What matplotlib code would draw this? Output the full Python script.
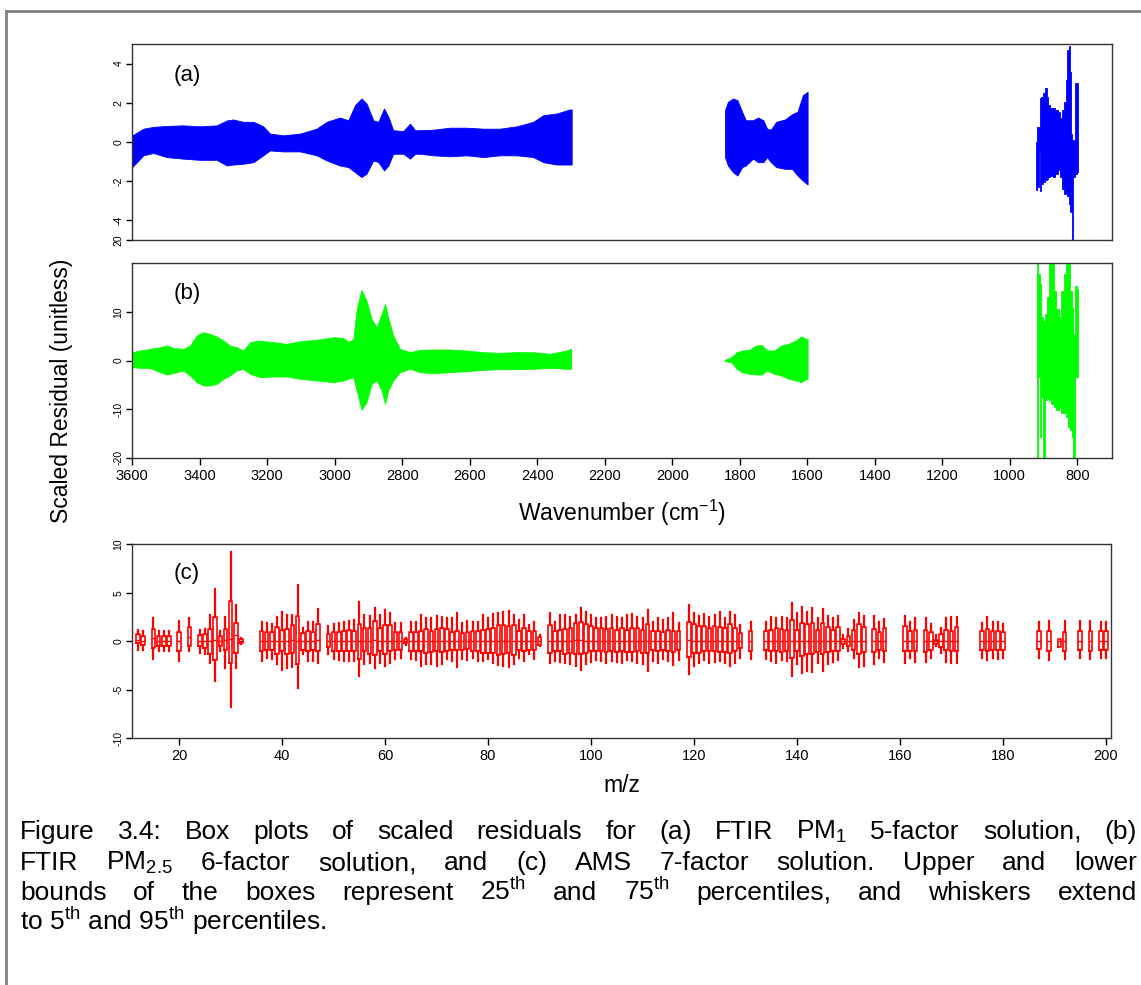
import numpy as np
import matplotlib
matplotlib.use("Agg")
import matplotlib.pyplot as plt
from matplotlib.lines import Line2D

plt.rcParams['font.family'] = ['Liberation Sans', 'DejaVu Sans']
plt.rcParams['mathtext.fontset'] = 'custom'
plt.rcParams['mathtext.rm'] = 'Liberation Sans'
plt.rcParams['mathtext.it'] = 'Liberation Sans:italic'
plt.rcParams['mathtext.bf'] = 'Liberation Sans:bold'
plt.rcParams['axes.unicode_minus'] = False

###############################################################################
# (a) FTIR PM1 5-factor: whisker range (5th..95th) per wavenumber             #
###############################################################################
a_wn = [3600, 3567, 3538, 3498, 3449, 3400, 3350, 3320, 3301, 3271,
        3241, 3212, 3192, 3153, 3103, 3054, 3024, 2985, 2960, 2940,
        2921, 2906, 2886, 2871, 2854, 2841, 2827, 2797, 2777, 2762,
        2748, 2708, 2659, 2610, 2560, 2511, 2461, 2412, 2382, 2343,
        2304, 2298,
        1844, 1835, 1820, 1807, 1793, 1782, 1761, 1746, 1730, 1719,
        1708, 1692, 1666, 1645, 1629, 1613, 1599,
        922, 917, 912, 909, 903, 898, 893, 888, 883, 876,
        868, 861, 854, 848, 843, 836, 831, 827, 824, 820,
        816, 813, 810, 804, 799]
a_hi = [0.34, 0.68, 0.77, 0.82, 0.85, 0.80, 0.85, 1.10, 1.15, 1.03,
        1.03, 0.80, 0.43, 0.34, 0.43, 0.68, 1.03, 1.25, 1.11, 1.88,
        2.22, 1.97, 1.11, 1.03, 1.71, 1.28, 0.60, 0.56, 0.94, 0.60,
        0.60, 0.63, 0.73, 0.73, 0.68, 0.68, 0.80, 1.03, 1.37, 1.45,
        1.66, 1.66,
        1.62, 2.05, 2.22, 2.14, 1.54, 1.11, 1.11, 1.25, 1.11, 0.68,
        0.63, 1.03, 1.15, 1.42, 1.54, 2.39, 2.56,
        0.00, 0.77, 0.69, 2.22, 2.31, 2.48, 2.74, 2.31, 1.88, 1.71,
        1.76, 1.63, 1.54, 1.20, 1.63, 2.05, 3.16, 4.70, 4.91, 3.59,
        0.43, 0.09, 0.09, 2.99, 2.99]
a_lo = [-1.28, -0.68, -0.56, -0.77, -0.85, -0.91, -0.91, -1.20, -1.15, -1.11,
        -1.03, -0.68, -0.43, -0.48, -0.48, -0.68, -0.94, -1.20, -1.28, -1.54,
        -1.79, -1.62, -0.94, -1.03, -1.45, -1.20, -0.60, -0.60, -0.85, -0.60,
        -0.60, -0.68, -0.73, -0.68, -0.77, -0.68, -0.68, -0.77, -1.03, -1.15,
        -1.15, -1.15,
        -0.77, -1.20, -1.54, -1.71, -1.28, -1.20, -0.85, -1.03, -1.03, -0.77,
        -1.03, -1.28, -1.37, -1.37, -1.71, -1.97, -2.17,
        -2.44, -2.31, -0.51, -2.48, -2.14, -2.05, -1.96, -1.88, -1.79, -1.71,
        -1.79, -1.62, -1.45, -1.79, -2.39, -2.65, -2.56, -2.73, -3.16, -3.59,
        -3.50, -5.50, -1.79, -1.62, -1.54]

###############################################################################
# (b) FTIR PM2.5 6-factor                                                     #
###############################################################################
b_wn = [3600, 3577, 3548, 3518, 3498, 3479, 3449, 3429, 3409, 3390,
        3370, 3350, 3330, 3311, 3291, 3271, 3251, 3222, 3182, 3143,
        3103, 3054, 3004, 2975, 2960, 2945, 2935, 2921, 2906, 2891,
        2876, 2861, 2851, 2842, 2827, 2807, 2777, 2748, 2708, 2659,
        2610, 2560, 2511, 2461, 2412, 2363, 2313, 2300,
        1844, 1825, 1809, 1793, 1772, 1751, 1735, 1719, 1698, 1677,
        1655, 1634, 1618, 1603, 1599,
        920, 912, 909, 903, 898, 893, 888, 881, 873, 866,
        859, 851, 844, 836, 831, 825, 820, 814, 810, 804, 799]
b_hi = [1.71, 2.05, 2.40, 2.74, 3.08, 2.60, 2.40, 3.08, 5.14, 5.82,
        5.48, 4.93, 4.11, 3.08, 2.74, 2.05, 3.77, 4.11, 3.77, 3.42,
        3.97, 4.25, 4.79, 4.66, 3.77, 4.45, 10.6, 14.5, 12.3, 8.56,
        6.85, 9.59, 11.6, 8.90, 5.14, 2.40, 1.71, 2.19, 2.26, 2.26,
        2.05, 1.71, 1.58, 1.71, 1.71, 1.37, 2.05, 2.40,
        0.14, 0.68, 1.71, 2.05, 2.19, 3.08, 3.22, 2.05, 2.05, 3.08,
        3.42, 4.11, 4.93, 4.45, 4.45,
        24.0, 17.8, 15.7, 8.9, 8.2, 9.6, 13.0, 24.0, 24.0, 14.3,
        10.6, 8.9, 14.3, 17.8, 24.0, 24.0, 14.3, 10.9, 5.5, 15.4, 14.7]
b_lo = [-1.37, -1.51, -1.51, -2.40, -2.88, -2.60, -2.05, -3.08, -4.45, -5.14,
        -5.14, -4.79, -3.77, -3.08, -2.05, -1.71, -2.74, -3.42, -3.29, -3.29,
        -3.77, -4.11, -4.45, -4.11, -3.77, -3.42, -6.16, -10.1, -8.56, -4.79,
        -4.11, -6.16, -8.90, -6.16, -4.11, -2.40, -1.71, -2.40, -2.60, -2.40,
        -2.19, -1.92, -1.78, -1.78, -1.71, -1.51, -1.71, -1.71,
        -0.14, -0.34, -1.71, -2.40, -2.74, -2.88, -2.88, -2.05, -2.74, -3.08,
        -3.77, -4.11, -4.45, -3.77, -3.77,
        -24.0, -3.4, -15.7, -7.5, -24.0, -8.2, -7.9, -8.2, -8.9, -9.6,
        -10.2, -9.6, -10.9, -10.9, -11.6, -13.7, -14.3, -15.7, -24.0, -3.4, -3.4]

###############################################################################
# (c) AMS 7-factor: box statistics per m/z                                    #
###############################################################################
c_mz = [12, 13, 15, 16, 17, 18, 20, 22, 24, 25,
        26, 27, 28, 29, 30, 31, 32, 36, 37, 38,
        39, 40, 41, 42, 43, 44, 45, 46, 47, 49,
        50, 51, 52, 53, 54, 55, 56, 57, 58, 59,
        60, 61, 62, 63, 64, 65, 66, 67, 68, 69,
        70, 71, 72, 73, 74, 75, 76, 77, 78, 79,
        80, 81, 82, 83, 84, 85, 86, 87, 88, 89,
        90, 92, 93, 94, 95, 96, 97, 98, 99, 100,
        101, 102, 103, 104, 105, 106, 107, 108, 109, 110,
        111, 112, 113, 114, 115, 116, 117, 119, 120, 121,
        122, 123, 124, 125, 126, 127, 128, 129, 131, 134,
        135, 136, 137, 138, 139, 140, 141, 142, 143, 144,
        145, 146, 147, 148, 149, 150, 151, 152, 153, 155,
        156, 157, 161, 162, 163, 165, 166, 167, 168, 169,
        170, 171, 176, 177, 178, 179, 180, 187, 189, 191,
        192, 195, 197, 199, 200]
c_hi = [1.19, 1.02, 2.38, 1.02, 1.02, 1.02, 2.11, 2.38, 1.19, 1.26,
        2.72, 5.44, 1.02, 2.55, 9.25, 3.74, 0.34, 2.04, 1.87, 1.77,
        2.55, 3.06, 2.72, 2.72, 5.78, 1.36, 2.04, 2.04, 3.33, 1.53,
        1.77, 1.87, 2.04, 2.11, 2.21, 4.08, 2.72, 2.62, 3.47, 2.72,
        3.23, 2.89, 1.87, 1.87, 0.34, 1.97, 1.97, 2.72, 2.38, 2.45,
        2.65, 2.55, 2.38, 2.38, 2.89, 1.87, 2.11, 2.04, 1.97, 2.72,
        2.38, 2.79, 2.89, 2.99, 3.13, 2.72, 2.21, 2.72, 1.70, 1.97,
        0.68, 2.89, 1.97, 2.72, 2.72, 2.55, 2.72, 3.47, 2.99, 2.72,
        2.45, 2.38, 2.55, 2.72, 2.55, 2.38, 2.72, 2.79, 2.55, 2.38,
        3.23, 1.97, 2.38, 2.21, 2.38, 2.89, 1.87, 3.74, 2.89, 2.65,
        2.79, 2.55, 2.72, 3.06, 2.38, 3.06, 2.72, 1.70, 2.04, 2.04,
        2.55, 2.45, 2.55, 2.45, 3.91, 2.89, 3.57, 2.99, 3.47, 2.45,
        3.33, 2.65, 2.38, 2.65, 0.61, 1.29, 2.21, 2.89, 2.65, 2.65,
        1.97, 2.31, 2.65, 2.04, 2.38, 2.38, 1.77, 0.68, 1.36, 2.45,
        2.55, 2.55, 1.87, 2.55, 1.97, 1.97, 1.77, 1.97, 2.11, 0.27,
        2.11, 2.11, 2.11, 1.97, 1.97]
c_q3 = [0.75, 0.51, 1.29, 0.51, 0.51, 0.51, 0.95, 1.46, 0.61, 0.75,
        1.26, 2.55, 0.51, 1.26, 4.15, 1.87, 0.27, 1.02, 0.92, 0.92,
        1.43, 1.19, 1.26, 1.70, 2.62, 0.85, 1.02, 0.92, 1.77, 0.75,
        0.92, 0.92, 1.09, 1.19, 1.09, 1.77, 1.36, 1.36, 2.11, 1.36,
        1.70, 1.63, 0.95, 0.95, 0.24, 0.95, 0.95, 1.02, 1.26, 1.09,
        1.26, 1.36, 1.26, 0.95, 1.02, 0.85, 0.92, 1.02, 1.09, 1.19,
        1.26, 1.36, 1.63, 1.70, 1.53, 1.63, 1.02, 1.36, 1.02, 1.02,
        0.41, 1.63, 1.02, 1.19, 1.26, 1.36, 1.87, 1.94, 1.77, 1.53,
        1.36, 1.36, 1.29, 1.36, 1.19, 1.36, 1.19, 1.36, 1.36, 1.19,
        1.77, 1.02, 1.02, 0.92, 1.19, 1.02, 1.02, 2.04, 1.77, 1.53,
        1.53, 1.36, 1.53, 1.43, 1.36, 1.77, 1.36, 0.85, 1.02, 1.02,
        1.19, 1.36, 1.29, 1.19, 2.21, 1.19, 1.87, 1.77, 1.87, 1.19,
        1.87, 1.43, 1.19, 1.43, 0.27, 0.51, 1.19, 1.77, 1.43, 1.29,
        0.95, 1.36, 1.53, 1.02, 1.19, 1.19, 0.95, 0.17, 0.75, 1.19,
        1.02, 1.43, 1.02, 1.29, 1.02, 1.02, 0.95, 1.02, 1.02, 0.27,
        0.95, 1.02, 1.02, 1.02, 1.02]
c_med = [0.10, 0.05, 0.30, 0.05, 0.05, 0.05, 0.00, 0.40, 0.05, 0.05,
         0.05, 0.10, 0.05, 0.10, 0.20, 0.60, 0.05, 0.05, 0.05, 0.05,
         0.05, 0.05, 0.05, 0.10, 0.05, 0.05, 0.05, 0.05, 0.10, 0.05,
         0.05, 0.05, 0.05, 0.05, 0.05, 0.05, 0.05, 0.05, 0.10, 0.05,
         0.05, 0.05, 0.05, 0.05, 0.00, 0.05, 0.05, 0.05, 0.05, 0.05,
         0.05, 0.05, 0.05, 0.05, 0.05, 0.05, 0.05, 0.05, 0.05, 0.05,
         0.05, 0.05, 0.05, 0.05, 0.05, 0.05, 0.05, 0.05, 0.05, 0.05,
         0.00, 0.05, 0.05, 0.05, 0.05, 0.05, 0.10, 0.10, 0.05, 0.05,
         0.05, 0.05, 0.05, 0.05, 0.05, 0.05, 0.05, 0.05, 0.05, 0.05,
         0.05, 0.05, 0.05, 0.05, 0.05, 0.05, 0.05, 0.10, 0.05, 0.05,
         0.05, 0.05, 0.05, 0.05, 0.05, 0.05, 0.05, 0.05, 0.05, 0.05,
         0.05, 0.05, 0.05, 0.05, 0.05, 0.05, 0.05, 0.05, 0.05, 0.05,
         0.05, 0.05, 0.05, 0.05, 0.00, 0.00, 0.05, 0.05, 0.05, 0.05,
         0.05, 0.05, 0.05, 0.05, 0.05, 0.05, 0.05, 0.00, 0.05, 0.05,
         0.05, 0.05, 0.05, 0.05, 0.05, 0.05, 0.05, 0.05, 0.05, 0.00,
         0.05, 0.05, 0.05, 0.05, 0.05]
c_q1 = [-0.17, -0.34, -0.68, -0.51, -0.51, -0.51, -1.02, -0.51, -0.51, -0.68,
        -1.26, -1.94, -0.51, -0.85, -2.21, -1.19, -0.17, -1.02, -0.85, -0.85,
        -1.29, -1.02, -1.29, -1.19, -2.38, -0.85, -1.02, -0.85, -0.95, -0.61,
        -0.95, -0.95, -1.02, -1.02, -1.02, -1.80, -1.02, -1.36, -1.43, -1.02,
        -1.36, -1.02, -0.85, -0.85, -0.20, -0.95, -1.02, -0.95, -1.19, -1.09,
        -1.02, -1.09, -1.02, -0.85, -0.85, -0.85, -0.78, -0.95, -0.95, -1.19,
        -1.19, -1.19, -1.43, -1.36, -1.19, -1.43, -0.85, -1.02, -0.85, -0.85,
        -0.34, -1.19, -1.02, -0.95, -1.29, -1.19, -1.36, -1.29, -1.19, -1.02,
        -1.02, -1.02, -1.09, -1.02, -1.09, -1.02, -1.09, -1.09, -1.02, -1.19,
        -1.19, -0.85, -0.95, -0.85, -1.02, -1.09, -0.85, -1.63, -1.19, -1.19,
        -1.02, -1.02, -1.02, -1.09, -1.09, -1.19, -1.02, -0.68, -0.95, -0.85,
        -1.02, -1.02, -1.09, -1.02, -1.70, -0.95, -1.53, -1.36, -1.36, -1.09,
        -1.36, -1.09, -0.95, -0.95, -0.27, -0.51, -0.85, -1.29, -1.09, -1.09,
        -0.85, -0.95, -0.95, -0.95, -0.95, -1.09, -0.85, -0.27, -0.61, -0.85,
        -1.02, -0.95, -0.85, -0.95, -0.85, -0.85, -0.85, -0.75, -0.95, -0.61,
        -0.95, -0.85, -0.95, -0.85, -0.85]
c_lo = [-0.85, -0.85, -1.80, -1.02, -0.95, -1.02, -2.04, -1.02, -1.19, -1.26,
        -2.21, -4.08, -0.95, -2.72, -6.73, -2.72, -0.27, -2.04, -1.70, -1.87,
        -2.38, -2.99, -2.72, -2.65, -4.83, -1.29, -2.04, -2.04, -2.21, -1.36,
        -1.87, -1.97, -2.04, -2.04, -2.04, -3.57, -2.38, -2.21, -2.72, -2.21,
        -2.55, -2.21, -1.87, -1.77, -0.34, -1.87, -1.97, -2.55, -2.38, -2.31,
        -2.55, -2.31, -1.87, -2.04, -2.65, -1.87, -1.97, -1.77, -2.04, -2.04,
        -1.87, -2.21, -2.45, -2.55, -2.65, -2.38, -1.70, -2.04, -1.36, -1.87,
        -0.51, -2.21, -2.04, -2.11, -2.21, -2.31, -2.55, -2.99, -2.38, -2.11,
        -1.97, -2.04, -2.21, -2.04, -2.11, -2.21, -1.97, -2.04, -2.21, -2.38,
        -3.06, -2.04, -2.21, -1.87, -2.04, -2.45, -1.97, -3.40, -2.55, -2.21,
        -1.97, -2.21, -2.11, -2.04, -2.21, -2.55, -2.21, -1.70, -1.87, -1.87,
        -2.04, -2.21, -1.97, -2.04, -3.57, -2.38, -3.23, -3.06, -3.13, -2.21,
        -3.06, -2.38, -2.11, -1.97, -0.68, -1.02, -1.77, -2.65, -2.55, -2.38,
        -1.70, -2.11, -2.21, -1.77, -2.11, -2.11, -1.77, -0.51, -1.19, -2.11,
        -2.21, -2.21, -1.70, -1.97, -1.70, -1.87, -1.77, -1.77, -1.97, -0.61,
        -1.87, -1.77, -1.87, -1.77, -1.77]

wn_ticks = [3600, 3400, 3200, 3000, 2800, 2600, 2400, 2200, 2000, 1800,
            1600, 1400, 1200, 1000, 800]
mz_ticks = [20, 40, 60, 80, 100, 120, 140, 160, 180, 200]

W, H = 1141, 985
fig = plt.figure(figsize=(W / 100, H / 100), dpi=100)


def px_box(left, top, right, bottom):
    return [left / W, 1 - bottom / H, (right - left) / W, (bottom - top) / H]


def style_axes(ax):
    for s in ax.spines.values():
        s.set_color('#333333')
        s.set_linewidth(1.0)
    ax.tick_params(axis='y', direction='out', length=4.5, width=1.0,
                   labelsize=7.5, pad=2, labelrotation=90)
    ax.tick_params(axis='x', direction='out', length=5, width=1.0,
                   labelsize=10.5, pad=3)
    for lbl in ax.get_yticklabels():
        lbl.set_va('center')


def draw_ftir(ax, wn, lo, hi, color):
    wn = np.asarray(wn, float)
    lo = np.asarray(lo, float)
    hi = np.asarray(hi, float)
    # split into the measured spectral windows
    cuts = np.where(np.abs(np.diff(wn)) > 100)[0] + 1
    for idx in np.split(np.arange(len(wn)), cuts):
        spacing = np.median(np.abs(np.diff(wn[idx])))
        step = 'mid' if spacing < 10 else None
        ax.fill_between(wn[idx], lo[idx], hi[idx], color=color,
                        linewidth=0.6, step=step)


# panel (a)
ax_a = fig.add_axes(px_box(132.3, 44, 1112, 240))
draw_ftir(ax_a, a_wn, a_lo, a_hi, '#0000ff')
ax_a.set_xlim(3600, 697)
ax_a.set_ylim(-5, 5)
ax_a.set_xticks([])
ax_a.set_yticks([4, 2, 0, -2, -4, -5])
ax_a.set_yticklabels(['4', '2', '0', '-2', '-4', '20'])
style_axes(ax_a)

# panel (b)
ax_b = fig.add_axes(px_box(132.3, 263.3, 1112, 457.7))
draw_ftir(ax_b, b_wn, b_lo, b_hi, '#00ff00')
ax_b.set_xlim(3600, 697)
ax_b.set_ylim(-20, 20)
ax_b.set_xticks(wn_ticks)
ax_b.set_xticklabels([str(t) for t in wn_ticks])
ax_b.set_yticks([10, 0, -10, -20])
ax_b.set_yticklabels(['10', '0', '-10', '-20'])
style_axes(ax_b)

# panel (c)
ax_c = fig.add_axes(px_box(132.3, 544.3, 1111, 738.3))
stats = [dict(med=m, q1=q1, q3=q3, whislo=lo, whishi=hi, fliers=[])
         for m, q1, q3, lo, hi in zip(c_med, c_q1, c_q3, c_lo, c_hi)]
red = '#ff0000'
ax_c.bxp(stats, positions=c_mz, widths=0.7, showcaps=False,
         showfliers=False, manage_ticks=False,
         boxprops=dict(color=red, linewidth=1.2),
         whiskerprops=dict(color=red, linewidth=1.6),
         medianprops=dict(color=red, linewidth=1.0))
ax_c.set_xlim(10.9, 201)
ax_c.set_ylim(-10, 10)
ax_c.set_xticks(mz_ticks)
ax_c.set_xticklabels([str(t) for t in mz_ticks])
ax_c.set_yticks([10, 5, 0, -5, -10])
ax_c.set_yticklabels(['10', '5', '0', '-5', '-10'])
style_axes(ax_c)

# panel tags and axis titles
for tag, yc in (('(a)', 75), ('(b)', 293), ('(c)', 574)):
    fig.text(187 / W, 1 - yc / H, tag, fontsize=16, ha='center', va='center')
fig.text(622 / W, 1 - 513 / H, 'Wavenumber (cm$^{-1}$)', fontsize=16.5,
         ha='center', va='center')
fig.text(622 / W, 1 - 785 / H, 'm/z', fontsize=16.5, ha='center', va='center')
fig.text(62 / W, 1 - 391 / H, 'Scaled Residual (unitless)', fontsize=16.5,
         rotation=90, ha='center', va='center')

# page frame (only top and left edges are inside the crop)
fig.add_artist(Line2D([6 / W, 6 / W], [0, 1 - 11 / H], color='#808080',
                      lw=2.0, transform=fig.transFigure))
fig.add_artist(Line2D([6 / W, 1], [1 - 11 / H, 1 - 11 / H], color='#808080',
                      lw=2.0, transform=fig.transFigure))

# caption, justified like the thesis page
caption = [
    'Figure 3.4: Box plots of scaled residuals for (a) FTIR PM$_1$ 5-factor solution, (b)',
    'FTIR PM$_{2.5}$ 6-factor solution, and (c) AMS 7-factor solution. Upper and lower',
    r'bounds of the boxes represent 25$^{\mathrm{th}}$ and 75$^{\mathrm{th}}$ percentiles, and whiskers extend',
    r'to 5$^{\mathrm{th}}$ and 95$^{\mathrm{th}}$ percentiles.',
]
baselines = [839, 870, 900, 930]
cap_size = 19
x0, x1 = 20, 1137
renderer = fig.canvas.get_renderer()
for i, (line, yb) in enumerate(zip(caption, baselines)):
    y = 1 - yb / H
    if i == len(caption) - 1:
        fig.text(x0 / W, y, line, fontsize=cap_size, va='baseline', ha='left')
        continue
    words = line.split(' ')
    texts = [fig.text(0, y, w, fontsize=cap_size, va='baseline', ha='left')
             for w in words]
    widths = [t.get_window_extent(renderer).width for t in texts]
    gap = (x1 - x0 - sum(widths)) / (len(words) - 1)
    x = x0
    for t, w in zip(texts, widths):
        t.set_x(x / W)
        x += w + gap

fig.savefig('out.png', dpi=100)
